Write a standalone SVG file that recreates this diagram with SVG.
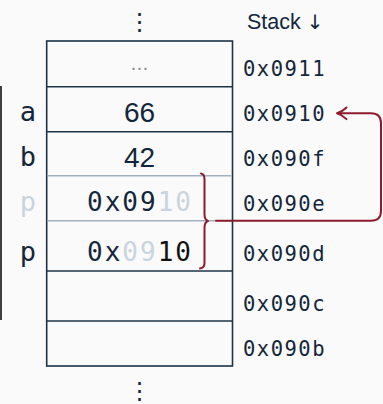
<svg xmlns="http://www.w3.org/2000/svg" width="383" height="404" viewBox="0 0 383 404">
<style>
.bg{fill:#fafafa}
.cell{fill:none;stroke:#1c3346;stroke-width:1.6}
.soft{stroke:#a2b0bc;stroke-width:1.6}
.addr{font-family:"DejaVu Sans Mono",monospace;font-size:20.5px;fill:#14263a;letter-spacing:1.5px}
.val{font-family:"DejaVu Sans Mono",monospace;font-size:26px;fill:#14263a;text-anchor:middle;letter-spacing:2px}
.num{font-family:"Liberation Sans",sans-serif;font-size:28px;fill:#14263a;text-anchor:middle}
.lbl{font-family:"DejaVu Sans Mono",monospace;font-size:27px;fill:#14263a;text-anchor:middle}
.dim{fill:#c9d4dd}
.blk{fill:#111}
.red{fill:none;stroke:#8e1b2e;stroke-width:2;stroke-linecap:round;stroke-linejoin:round}
.dots{font-family:"DejaVu Sans",sans-serif;font-size:24px;fill:#14263a;text-anchor:middle}
</style>
<rect class="bg" width="383" height="404"/>
<text class="dots" x="139.5" y="30">⋮</text>
<text x="247" y="28.5" font-family="Liberation Sans,sans-serif" font-size="21.5" fill="#14263a">Stack <tspan font-family="DejaVu Sans,sans-serif" font-size="20" fill="#14263a">↓</tspan></text>
<line x1="1" y1="86" x2="1" y2="320" stroke="#111" stroke-width="1.6"/>
<g id="stack">
<rect class="cell" x="46.7" y="41" width="185.8" height="325"/>
<line class="cell" x1="46.7" y1="86.7" x2="232.5" y2="86.7"/>
<line class="cell" x1="46.7" y1="131.7" x2="232.5" y2="131.7"/>
<line class="cell soft" x1="47.5" y1="175.7" x2="231.7" y2="175.7"/>
<line class="cell soft" x1="47.5" y1="220.7" x2="231.7" y2="220.7"/>
<line class="cell" x1="46.7" y1="271" x2="232.5" y2="271"/>
<line class="cell" x1="46.7" y1="321" x2="232.5" y2="321"/>
</g>
<g id="row-0911">
<text x="139.5" y="69.5" font-family="DejaVu Sans,sans-serif" font-size="18" fill="#8a8a8a" text-anchor="middle">…</text>
<text class="addr" x="243" y="76">0x0911</text>
</g>
<g id="row-a">
<text class="lbl" x="28" y="120.5">a</text>
<text class="num" x="139.5" y="121.5">66</text>
<text class="addr" x="243" y="120.5">0x0910</text>
</g>
<g id="row-b">
<text class="lbl" x="28" y="166">b</text>
<text class="num" x="139.5" y="166.5">42</text>
<text class="addr" x="243" y="166">0x090f</text>
</g>
<g id="row-p-hi">
<text class="lbl dim" x="28" y="210.5">p</text>
<text class="val" x="140" y="210.5">0x09<tspan class="dim">10</tspan></text>
<text class="addr" x="243" y="210.5">0x090e</text>
</g>
<g id="row-p-lo">
<text class="lbl" x="28" y="260.5">p</text>
<text class="val" x="140" y="260.5">0x<tspan class="dim">09</tspan><tspan class="blk">10</tspan></text>
<text class="addr" x="243" y="260.5">0x090d</text>
</g>
<g id="row-090c"><text class="addr" x="243" y="310.5">0x090c</text></g>
<g id="row-090b"><text class="addr" x="243" y="356">0x090b</text></g>
<text class="dots" x="139.5" y="399">⋮</text>
<g id="connectors">
<path class="red" d="M201,173.5 Q204.5,174 204.5,179 L204.5,214 Q204.5,220 208,221 Q204.5,222 204.5,228 L204.5,263 Q204.5,268 200,268.5"/>
<path class="red" d="M216,220.7 L371,220.7 Q381,220.7 381,210.7 L381,123.3 Q381,113.3 371,113.3 L338,113.3"/>
<path class="red" d="M346.5,107.5 Q342,112 337,113.3 Q342,114.6 346.5,119.1"/>
</g>
</svg>
